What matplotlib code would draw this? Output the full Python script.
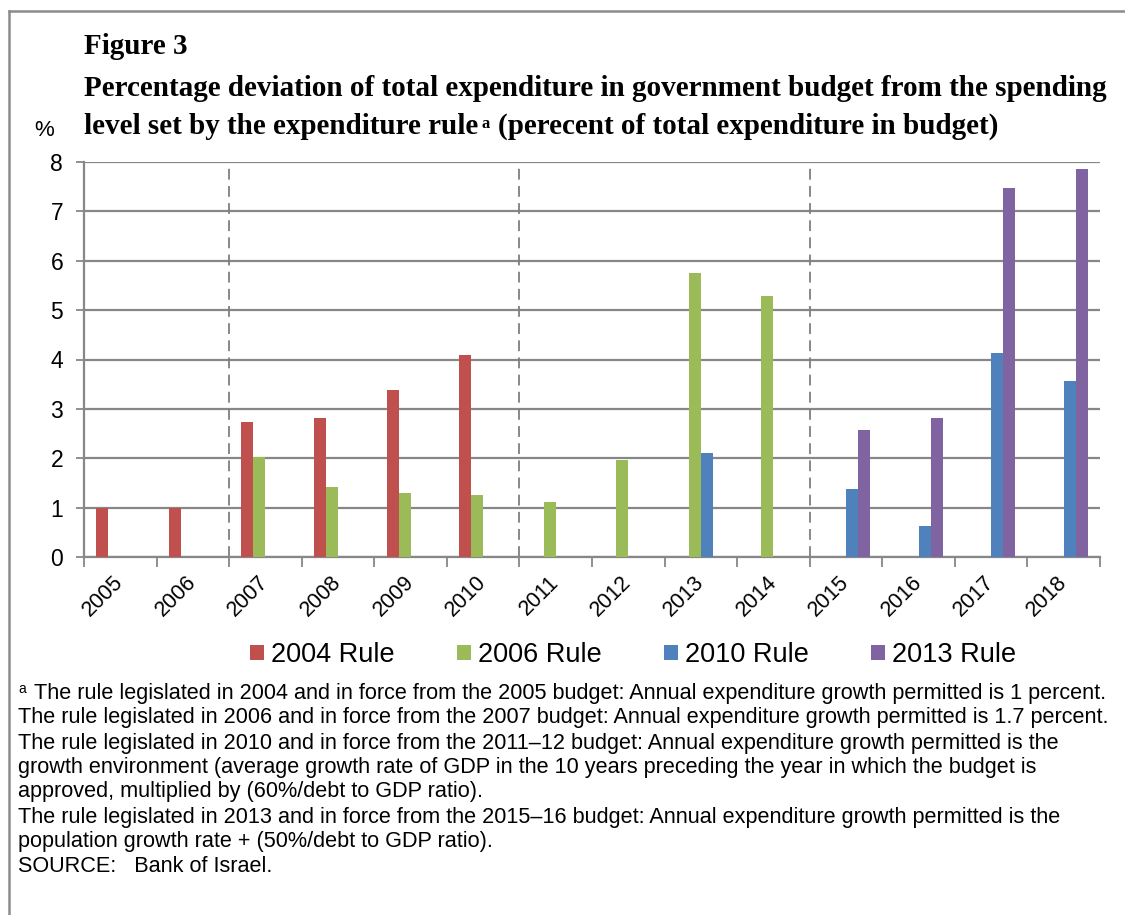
import numpy as np
import matplotlib
matplotlib.use("Agg")
import matplotlib.pyplot as plt
from matplotlib.patches import Patch
from matplotlib.lines import Line2D

# ---------------- DATA ----------------
years = ["2005", "2006", "2007", "2008", "2009", "2010", "2011",
         "2012", "2013", "2014", "2015", "2016", "2017", "2018"]
series_names = ["2004 Rule", "2006 Rule", "2010 Rule", "2013 Rule"]
rule_2004 = [1.0, 1.0, 2.73, 2.82, 3.39, 4.10, None, None, None, None, None, None, None, None]
rule_2006 = [None, None, 2.03, 1.41, 1.29, 1.25, 1.12, 1.96, 5.75, 5.29, None, None, None, None]
rule_2010 = [None, None, None, None, None, None, None, None, 2.11, None, 1.37, 0.63, 4.14, 3.57]
rule_2013 = [None, None, None, None, None, None, None, None, None, None, 2.57, 2.82, 7.48, 7.86]
colors = ["#C0504D", "#9BBB59", "#4F81BD", "#8064A2"]
# boundaries where a new rule took effect (between categories)
rule_breaks = [1.5, 5.5, 9.5]
y_ticks = [0, 1, 2, 3, 4, 5, 6, 7, 8]

title_1 = "Figure 3"
title_2 = "Percentage deviation of total expenditure in government budget from the spending"
title_3a = "level set by the expenditure rule"
title_3b = "(perecent of total expenditure in budget)"

notes = [
    "The rule legislated in 2004 and in force from the 2005 budget: Annual expenditure growth permitted is 1 percent.",
    "The rule legislated in 2006 and in force from the 2007 budget: Annual expenditure growth permitted is 1.7 percent.",
    "The rule legislated in 2010 and in force from the 2011\u201312 budget: Annual expenditure growth permitted is the",
    "growth environment (average growth rate of GDP in the 10 years preceding the year in which the budget is",
    "approved, multiplied by (60%/debt to GDP ratio).",
    "The rule legislated in 2013 and in force from the 2015\u201316 budget: Annual expenditure growth permitted is the",
    "population growth rate + (50%/debt to GDP ratio).",
    "SOURCE:   Bank of Israel.",
]

# ---------------- FIGURE ----------------
W, H = 1125, 915
fig = plt.figure(figsize=(W / 100, H / 100), dpi=100)
fig.patch.set_facecolor("white")

ax = fig.add_axes([84 / W, 1 - 557 / H, (1100 - 84) / W, (557 - 162) / H])

data = [rule_2004, rule_2006, rule_2010, rule_2013]
x = np.arange(len(years))
bw = 0.165
for k, (vals, c) in enumerate(zip(data, colors)):
    v = np.array([np.nan if a is None else a for a in vals], dtype=float)
    ax.bar(x + (k - 1.5) * bw, v, width=bw, color=c, zorder=3, linewidth=0)

for b in rule_breaks:
    ax.axvline(b, color="#7f7f7f", lw=1.3, linestyle=(0, (6, 3.5)), zorder=2)

ax.set_xlim(-0.5, len(years) - 0.5)
ax.set_ylim(0, 8)
ax.set_yticks(y_ticks)
ax.set_yticklabels([str(t) for t in y_ticks], fontsize=16.5, family="Liberation Sans")
ax.yaxis.grid(True, color="#878787", lw=1.6, zorder=0)
ax.set_axisbelow(True)

ax.set_xticks(np.arange(-0.5, len(years)), minor=False)
ax.set_xticklabels([])
ax.set_xticks(x, minor=True)
ax.set_xticklabels(years, minor=True, rotation=45, ha="right", va="center",
                   rotation_mode="anchor", fontsize=15.5, family="Liberation Sans")
ax.tick_params(axis="x", which="major", length=7, width=1.3, color="#878787")
ax.tick_params(axis="x", which="minor", length=0, pad=16)
ax.tick_params(axis="y", length=6, width=1.3, color="#878787", pad=9)

for s in ["top", "right"]:
    ax.spines[s].set_visible(False)
for s in ["left", "bottom"]:
    ax.spines[s].set_color("#878787")
    ax.spines[s].set_linewidth(1.6)

# ---------------- TITLE ----------------
serif = "Liberation Serif"
tsize = 21
fig.text(84 / W, 1 - 47 / H, title_1, fontsize=tsize, fontweight="bold", family=serif, va="center")
fig.text(84 / W, 1 - 88 / H, title_2, fontsize=tsize, fontweight="bold", family=serif, va="center")
t3 = fig.text(84 / W, 1 - 127 / H, title_3a, fontsize=tsize, fontweight="bold", family=serif, va="center")
fig.canvas.draw()
ax.annotate("a", xy=(1, 0.62), xycoords=t3, xytext=(2, 0), textcoords="offset points",
            fontsize=12, fontweight="bold", family=serif, va="center", ha="left")
ax.annotate(title_3b, xy=(1, 0), xycoords=t3, xytext=(14, 0), textcoords="offset points",
            fontsize=tsize, fontweight="bold", family=serif, va="bottom", ha="left")
fig.text(44 / W, 1 - 131 / H, "%", fontsize=16, family="Liberation Sans", ha="center", va="center")

# ---------------- LEGEND ----------------
handles = [Patch(facecolor=c, edgecolor="none") for c in colors]
fig.legend(handles, series_names, loc="center", bbox_to_anchor=(633 / W, 1 - 655 / H),
           ncol=4, frameon=False, prop={"family": "Liberation Sans", "size": 19.5},
           handlelength=0.52, handleheight=0.52, handletextpad=0.26, columnspacing=2.3)

# ---------------- NOTES ----------------
note_y = [693, 718, 743, 768, 792, 817, 842, 867]
fig.text(18 / W, 1 - 689 / H, "a", fontsize=10, family="Liberation Sans", va="center")
for i, (line, yy) in enumerate(zip(notes, note_y)):
    xx = 34 if i == 0 else 18
    fig.text(xx / W, 1 - yy / H, line, fontsize=15.6, family="Liberation Sans", va="center")

# outer frame
fig.add_artist(Line2D([9 / W, 1], [1 - 11 / H, 1 - 11 / H], color="#8c8c8c", lw=1.8))
fig.add_artist(Line2D([9 / W, 9 / W], [0, 1 - 11 / H], color="#8c8c8c", lw=1.8))

fig.savefig("out.png", dpi=100)
